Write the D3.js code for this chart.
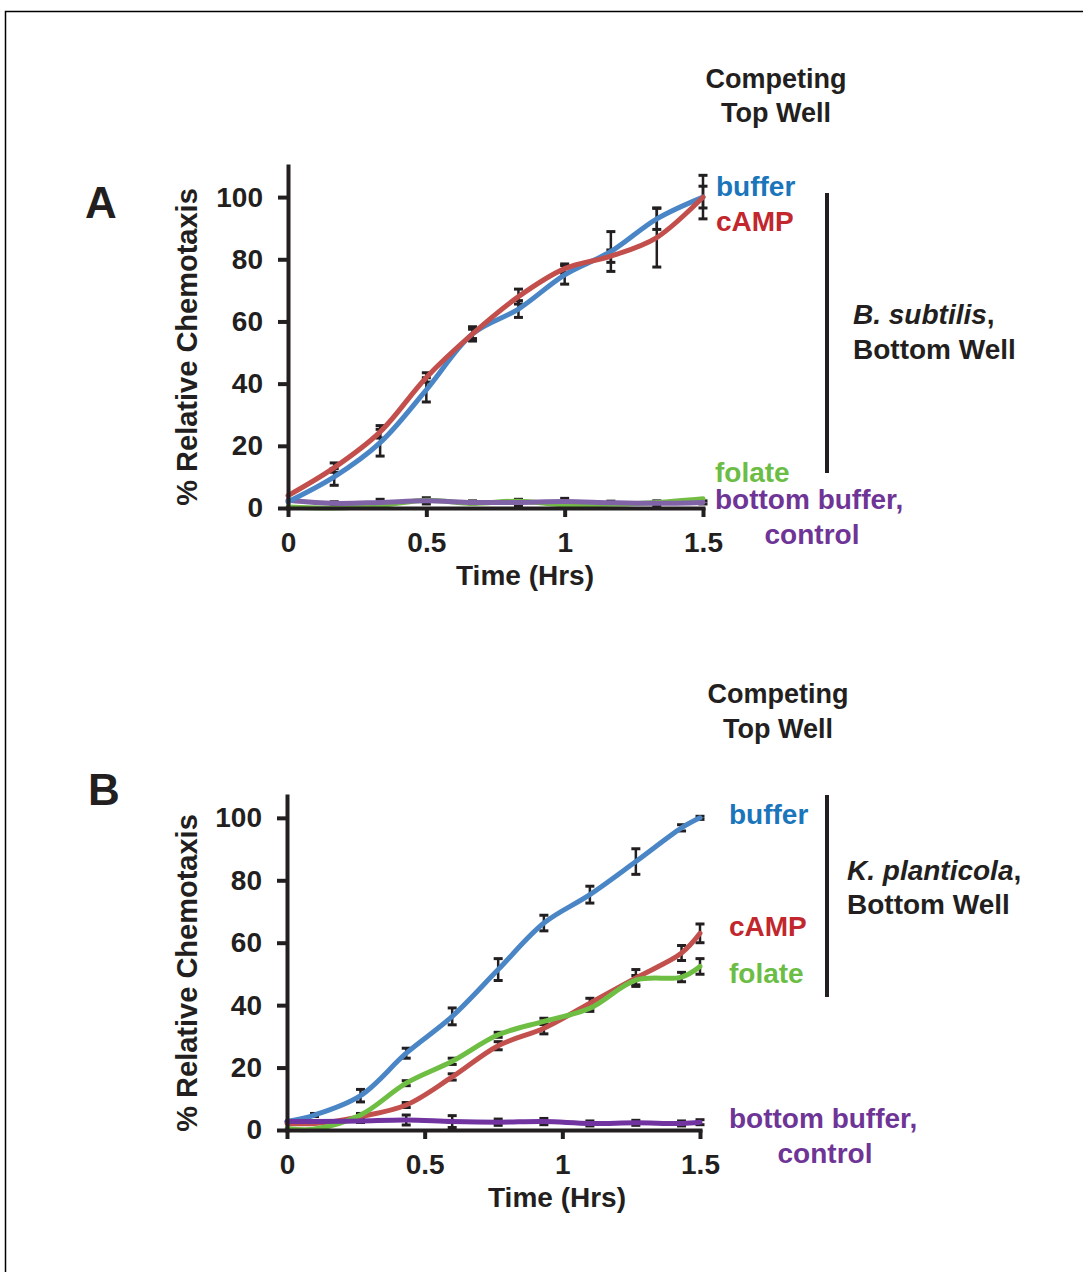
<!DOCTYPE html>
<html>
<head>
<meta charset="utf-8">
<script src="https://d3js.org/d3.v7.min.js"></script>
<title>Relative Chemotaxis</title>
<style type="text/css">
body {
  margin: 0;
  background: #fff;
}
svg text {
  font-family: "Liberation Sans", Arial, Helvetica, sans-serif;
  font-weight: bold;
}
.axis path, .axis line {
  stroke: #231f20;
  stroke-width: 4;
}
.axis text {
  font-size: 28px;
  fill: #231f20;
}
</style>
</head>
<body>
<svg id="chart"></svg>

<script>
// panel A - B. subtilis bottom well
var timesA = [0, 0.167, 0.333, 0.5, 0.667, 0.833, 1, 1.167, 1.333, 1.5];
var bufferA = [2, 10, 21, 38, 56, 64, 75, 82.5, 93, 100];
var campA = [4, 13, 24.5, 42, 56, 68, 77, 81, 87, 100];
var folateA = [0.3, 0, 0.8, 2.5, 1.5, 2.2, 1, 1.2, 1.8, 3];
var bottomA = [2.5, 1.5, 1.8, 2.3, 1.8, 1.8, 2.1, 1.7, 1.5, 1.8];
var errBufferA = [0, 2.7, 4.3, 3.9, 2.3, 2.7, 3, 6.4, 3.4, 7];
var errCampA = [0, 1.5, 2, 1.5, 1.5, 2.4, 1.5, 2, 9.5, 3.5];
var errFolateA = [0, 0, 0, 0, 0, 0, 0, 0, 0, 0];
var errBottomA = [0, 0.5, 1, 1, 0.5, 1, 1, 0.5, 0.8, 0.5];

// panel B - K. planticola bottom well
var timesB = [0, 0.1, 0.267, 0.433, 0.6, 0.767, 0.933, 1.1, 1.267, 1.433, 1.5];
var bufferB = [2.7, 4.8, 11, 24.6, 36.4, 51.4, 66.3, 75.4, 86, 96.8, 100];
var campB = [2.1, 2.1, 4.3, 8, 17, 27, 32.6, 40.6, 48.7, 56.7, 63];
var folateB = [0.5, 0.3, 4.8, 15, 22, 30.5, 34.8, 39, 48, 49, 52.4];
var bottomB = [2.7, 2.7, 2.9, 3.2, 2.7, 2.5, 2.7, 2.1, 2.3, 2.1, 2.5];
var errBufferB = [0, 0.5, 2, 1.6, 2.7, 3.5, 2.5, 2.7, 4.1, 1, 0.5];
var errCampB = [0, 0, 0.5, 0.8, 1, 1.3, 1.8, 1.6, 2.7, 2.4, 3];
var errFolateB = [0, 0, 0.5, 0.8, 1, 0.8, 1, 1, 1.5, 1.5, 2.5];
var errBottomB = [0, 0, 0.5, 1.6, 1.9, 1, 1, 0.8, 0.8, 0.8, 0.8];

var yTicks = [0, 20, 40, 60, 80, 100];
var xTicks = [0, 0.5, 1, 1.5];

var svg = d3.select("#chart")
  .attr("width", 1083)
  .attr("height", 1272);

// frame
svg.append("path")
  .attr("d", "M5.5,1272V11.5H1083")
  .attr("fill", "none")
  .attr("stroke", "#000")
  .attr("stroke-width", 1.5);

var panels = [
  {
    letter: "A", lx: 85, ly: 218,
    x0: 288, x1: 703, yTop: 166, yBot: 508, yMax: 110,
    titleX: 525,
    times: timesA,
    series: [
      {name: "buffer", vals: bufferA, err: errBufferA, line: "#4a86c6"},
      {name: "cAMP", vals: campA, err: errCampA, line: "#c24f4c"},
      {name: "folate", vals: folateA, err: errFolateA, line: "#74bd44"},
      {name: "bottom", vals: bottomA, err: errBottomA, line: "#8063a6"}
    ],
    head: {x: 776, y1: 88, y2: 122},
    labels: [
      {t: "buffer", x: 716, y: 196, c: "#1b75bb"},
      {t: "cAMP", x: 716, y: 231, c: "#c1272d"},
      {t: "folate", x: 715, y: 482, c: "#6cbd45"},
      {t: "bottom buffer,", x: 715, y: 509, c: "#6e3596"},
      {t: "control", x: 812, y: 544, c: "#6e3596", mid: true}
    ],
    bracket: {x: 827, y1: 193, y2: 473},
    org: {x: 853, y1: 324, y2: 359, name: "B. subtilis"}
  },
  {
    letter: "B", lx: 88, ly: 805,
    x0: 287, x1: 700, yTop: 796, yBot: 1130, yMax: 107,
    titleX: 557,
    times: timesB,
    series: [
      {name: "buffer", vals: bufferB, err: errBufferB, line: "#4a86c6"},
      {name: "cAMP", vals: campB, err: errCampB, line: "#c2504d"},
      {name: "folate", vals: folateB, err: errFolateB, line: "#6fbe44"},
      {name: "bottom", vals: bottomB, err: errBottomB, line: "#7033a0"}
    ],
    head: {x: 778, y1: 703, y2: 738},
    labels: [
      {t: "buffer", x: 729, y: 824, c: "#1b75bb"},
      {t: "cAMP", x: 729, y: 936, c: "#c1272d"},
      {t: "folate", x: 729, y: 983, c: "#6cbd45"},
      {t: "bottom buffer,", x: 729, y: 1128, c: "#6e3596"},
      {t: "control", x: 825, y: 1163, c: "#6e3596", mid: true}
    ],
    bracket: {x: 827, y1: 795, y2: 997},
    org: {x: 847, y1: 880, y2: 914, name: "K. planticola"}
  }
];

panels.forEach(function(p) {
  var x = d3.scaleLinear().domain([0, 1.5]).range([p.x0, p.x1]);
  var y = d3.scaleLinear().domain([0, p.yMax]).range([p.yBot, p.yTop]);
  var g = svg.append("g");

  g.append("text")
    .attr("x", p.lx).attr("y", p.ly)
    .style("font-size", "44px")
    .attr("fill", "#231f20")
    .text(p.letter);

  // error bars under lines
  var line = d3.line()
    .x(function(d) { return x(d[0]); })
    .y(function(d) { return y(d[1]); })
    .curve(d3.curveCatmullRom.alpha(0.5));

  p.series.forEach(function(s) {
    var pts = p.times.map(function(t, i) { return [t, s.vals[i], s.err[i]]; })
      .filter(function(d) { return d[2] > 0; });
    var eb = g.append("g").attr("stroke", "#231f20").attr("stroke-width", 2.5);
    eb.selectAll("line.v").data(pts).enter().append("line")
      .attr("x1", function(d) { return x(d[0]); })
      .attr("x2", function(d) { return x(d[0]); })
      .attr("y1", function(d) { return y(d[1] - d[2]); })
      .attr("y2", function(d) { return y(d[1] + d[2]); });
    [-1, 1].forEach(function(sg) {
      eb.selectAll(null).data(pts).enter().append("line")
        .attr("x1", function(d) { return x(d[0]) - 4.5; })
        .attr("x2", function(d) { return x(d[0]) + 4.5; })
        .attr("y1", function(d) { return y(d[1] + sg * d[2]); })
        .attr("y2", function(d) { return y(d[1] + sg * d[2]); })
        .attr("stroke-width", 3);
    });
  });

  var order = p.letter === "A" ? [2, 3, 0, 1] : [0, 1, 2, 3];
  order.forEach(function(k) {
    var s = p.series[k];
    g.append("path")
      .datum(p.times.map(function(t, i) { return [t, s.vals[i]]; }))
      .attr("fill", "none")
      .attr("stroke", s.line)
      .attr("stroke-width", 5)
      .attr("stroke-linecap", "round")
      .attr("d", line);
  });

  // axes
  g.append("g")
    .attr("class", "axis")
    .attr("transform", "translate(" + p.x0 + ",0)")
    .call(d3.axisLeft(y).tickValues(yTicks).tickSize(10).tickSizeOuter(0).tickPadding(15));

  g.append("g")
    .attr("class", "axis")
    .attr("transform", "translate(0," + p.yBot + ")")
    .call(d3.axisBottom(x).tickValues(xTicks).tickSize(9).tickSizeOuter(0).tickPadding(15)
      .tickFormat(d3.format("")));

  g.selectAll(".axis .domain").attr("stroke-linecap", "square");

  // axis titles
  g.append("text")
    .attr("transform", "translate(197," + ((p.yTop + p.yBot) / 2 + 10) + ")rotate(-90)")
    .attr("text-anchor", "middle")
    .style("font-size", "29px")
    .attr("fill", "#231f20")
    .text("% Relative Chemotaxis");

  g.append("text")
    .attr("x", p.titleX).attr("y", p.yBot + 77)
    .attr("text-anchor", "middle")
    .style("font-size", "28px")
    .attr("fill", "#231f20")
    .text("Time (Hrs)");

  // header
  g.append("text")
    .attr("x", p.head.x).attr("y", p.head.y1)
    .attr("text-anchor", "middle")
    .style("font-size", "27px")
    .attr("fill", "#231f20")
    .text("Competing");
  g.append("text")
    .attr("x", p.head.x).attr("y", p.head.y2)
    .attr("text-anchor", "middle")
    .style("font-size", "27px")
    .attr("fill", "#231f20")
    .text("Top Well");

  // series labels
  g.selectAll("text.lab").data(p.labels).enter().append("text")
    .attr("class", "lab")
    .attr("x", function(d) { return d.x; })
    .attr("y", function(d) { return d.y; })
    .attr("text-anchor", function(d) { return d.mid ? "middle" : "start"; })
    .style("font-size", "28px")
    .attr("fill", function(d) { return d.c; })
    .text(function(d) { return d.t; });

  // bracket + organism
  g.append("line")
    .attr("x1", p.bracket.x).attr("x2", p.bracket.x)
    .attr("y1", p.bracket.y1).attr("y2", p.bracket.y2)
    .attr("stroke", "#231f20")
    .attr("stroke-width", 4);

  var o = g.append("text")
    .attr("x", p.org.x).attr("y", p.org.y1)
    .style("font-size", "28px")
    .attr("fill", "#231f20");
  o.append("tspan").style("font-style", "italic").text(p.org.name);
  o.append("tspan").text(",");

  g.append("text")
    .attr("x", p.org.x).attr("y", p.org.y2)
    .style("font-size", "28px")
    .attr("fill", "#231f20")
    .text("Bottom Well");
});
</script>
</body>
</html>
